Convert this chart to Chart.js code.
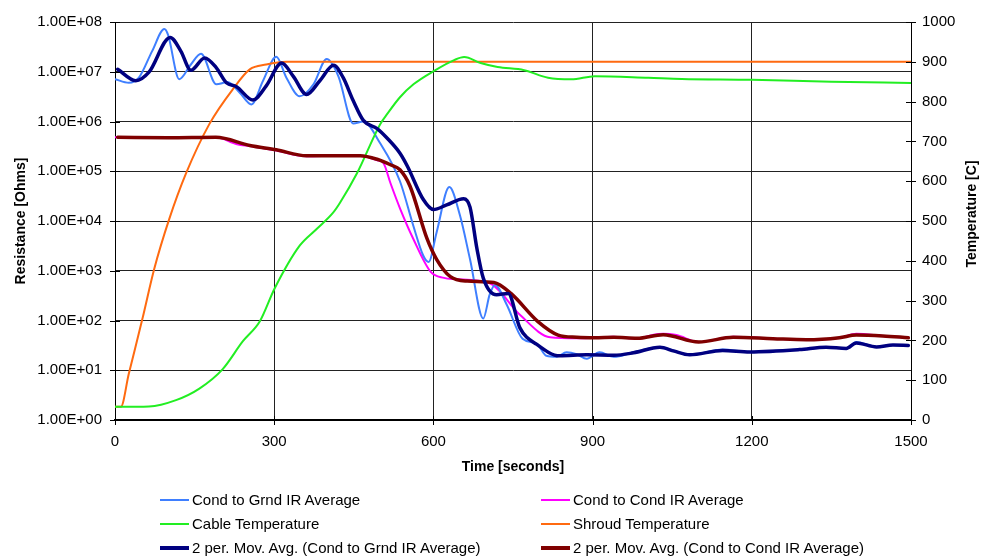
<!DOCTYPE html>
<html>
<head>
<meta charset="utf-8">
<script src="https://cdn.jsdelivr.net/npm/chart.js@4/dist/chart.umd.min.js"></script>
<style>
  html, body { margin: 0; padding: 0; background: #fff; }
  #wrap { position: relative; width: 981px; height: 558px; }
  #legend { position: absolute; left: 0; top: 0; width: 981px; height: 558px; pointer-events: none;
            font-family: "Liberation Sans", Arial, sans-serif; font-size: 15px; color: #000; }
  .li { position: absolute; height: 20px; line-height: 20px; white-space: nowrap; }
  .sw { position: absolute; left: 0; width: 29px; }
  .tx { position: absolute; left: 32px; top: 0; }
</style>
</head>
<body>
<div id="wrap">
  <canvas id="c" width="981" height="558"></canvas>
  <div id="legend"></div>
</div>
<script>
// ---------- data ----------
const timeTicks = [0, 300, 600, 900, 1200, 1500];
const resistanceTicks = [1, 10, 100, 1000, 1e4, 1e5, 1e6, 1e7, 1e8];
const temperatureTicks = [0, 100, 200, 300, 400, 500, 600, 700, 800, 900, 1000];

// Cond to Grnd IR Average [Ohms]
const grndTime = [0, 26, 45, 70, 93, 100, 121, 143, 162, 191, 212, 235, 257, 279, 304, 323, 348, 374, 399, 421, 449, 468, 500, 537, 562, 581, 591, 606, 630, 650, 669, 694, 706, 716, 738, 768, 795, 813, 832, 851, 870, 889, 913, 940, 977, 1027, 1083, 1145, 1196, 1240, 1290, 1340, 1378, 1397, 1435, 1466, 1495];
const grndIR = [7.1e6, 6.0e6, 7.6e6, 2.6e7, 7.2e7, 5.5e7, 7.1e6, 1.4e7, 2.3e7, 5.6e6, 6.2e6, 3.8e6, 2.2e6, 6.6e6, 2.0e7, 7.6e6, 3.2e6, 5.6e6, 1.8e7, 8.1e6, 9.1e5, 1.0e6, 3.6e5, 6.3e4, 8.1e3, 2.0e3, 1.5e3, 5.9e3, 4.8e4, 1.3e4, 1.7e3, 110, 330, 520, 210, 43, 34, 19.5, 18.6, 23, 21, 17, 23, 18.6, 23, 29, 20.4, 26, 23.4, 24.5, 26, 29, 27.5, 37, 29.5, 32, 31];

// Cond to Cond IR Average [Ohms]
const condTime = [0, 100, 190, 230, 254, 304, 361, 420, 462, 494, 506, 519, 537, 562, 595, 620, 639, 706, 763, 820, 870, 900, 938, 984, 1015, 1033, 1058, 1100, 1165, 1240, 1303, 1365, 1397, 1447, 1495];
const condIR = [4.8e5, 4.8e5, 4.8e5, 3.5e5, 3.2e5, 2.6e5, 2.0e5, 2.05e5, 2.05e5, 1.66e5, 1.45e5, 5.8e4, 1.8e4, 4.4e3, 950, 720, 680, 560, 130, 46, 44, 45, 47, 43, 52, 54, 51, 37, 47, 43, 41, 45, 54, 49, 45];

// Cable Temperature [C]
const cableTime = [0, 64, 115, 159, 203, 241, 273, 301, 348, 380, 411, 424, 456, 500, 513, 537, 563, 601, 640, 658, 689, 721, 771, 816, 860, 904, 1005, 1068, 1200, 1350, 1500];
const cableTemp = [33, 34, 50, 79, 128, 198, 248, 331, 438, 480, 521, 546, 620, 744, 769, 811, 844, 877, 905, 912, 897, 887, 879, 860, 856, 864, 860, 857, 855, 850, 847];

// Shroud Temperature [C]
const shroudTime = [0, 11, 26, 52, 74, 102, 134, 178, 222, 254, 285, 323, 600, 900, 1200, 1500];
const shroudTemp = [33, 33, 116, 256, 380, 504, 620, 744, 831, 881, 893, 900, 900, 900, 900, 900];

// 2 per. Mov. Avg. (Cond to Grnd IR Average) [Ohms]
const maGrndTime = [5, 39, 64, 104, 124, 143, 169, 191, 210, 229, 260, 285, 314, 336, 361, 386, 412, 430, 449, 468, 494, 513, 537, 551, 581, 600, 625, 657, 669, 682, 694, 719, 741, 763, 795, 838, 889, 940, 977, 1027, 1052, 1083, 1145, 1196, 1290, 1340, 1378, 1397, 1435, 1466, 1495];
const maGrndIR = [1.12e7, 6.6e6, 9.8e6, 4.9e7, 2.6e7, 1.07e7, 1.9e7, 1.2e7, 6.0e6, 5.0e6, 2.7e6, 5.2e6, 1.5e7, 8.1e6, 3.5e6, 6.6e6, 1.35e7, 7.6e6, 2.6e6, 1.05e6, 7.2e5, 4.6e5, 2.3e5, 1.26e5, 2.7e4, 1.7e4, 2.1e4, 2.8e4, 1.9e4, 2.8e3, 710, 330, 350, 71, 33, 19.5, 20.4, 20, 22.4, 29, 24.5, 20.4, 25, 23.4, 26, 29, 27.5, 35.5, 29.5, 32, 31.6];

// 2 per. Mov. Avg. (Cond to Cond IR Average) [Ohms]
const maCondTime = [5, 100, 190, 254, 304, 361, 462, 494, 519, 537, 556, 588, 606, 632, 664, 714, 746, 797, 835, 870, 904, 940, 984, 1033, 1100, 1165, 1240, 1303, 1365, 1397, 1447, 1495];
const maCondIR = [4.8e5, 4.7e5, 4.8e5, 3.3e5, 2.7e5, 2.05e5, 2.05e5, 1.74e5, 1.35e5, 1.07e5, 5.0e4, 4.4e3, 1.7e3, 760, 620, 580, 350, 95, 51, 46, 45, 46, 44, 52, 37, 46, 43, 41, 45, 51, 49, 45];

const seriesLabels = [
  'Cond to Grnd IR Average',
  'Cond to Cond IR Average',
  'Cable Temperature',
  'Shroud Temperature',
  '2 per. Mov. Avg. (Cond to Grnd IR Average)',
  '2 per. Mov. Avg. (Cond to Cond IR Average)'
];

// ---------- build ----------
const pts = (xs, ys) => xs.map((x, i) => ({ x: x, y: ys[i] }));
const FONT = '"Liberation Sans", Arial, sans-serif';

function expLabel(v) {
  const e = Math.round(Math.log10(v));
  return '1.00E+' + (e < 10 ? '0' : '') + e;
}

const crossTicks = {
  id: 'crossTicks',
  afterDraw(chart) {
    const ctx = chart.ctx, a = chart.chartArea;
    ctx.save();
    ctx.strokeStyle = '#000';
    ctx.lineWidth = 1;
    ctx.beginPath();
    const xs = chart.scales.x;
    xs.ticks.forEach(t => {
      const px = Math.round(xs.getPixelForValue(t.value)) + 0.5;
      ctx.moveTo(px, a.bottom - 4); ctx.lineTo(px, a.bottom + 5);
    });
    const ys = chart.scales.y;
    ys.ticks.forEach(t => {
      const py = Math.round(ys.getPixelForValue(t.value)) + 0.5;
      ctx.moveTo(a.left - 5, py); ctx.lineTo(a.left + 5, py);
    });
    const y2 = chart.scales.y2;
    y2.ticks.forEach(t => {
      const py = Math.round(y2.getPixelForValue(t.value)) + 0.5;
      ctx.moveTo(a.right - 5, py); ctx.lineTo(a.right + 5, py);
    });
    ctx.stroke();
    // right axis title, reading bottom-to-top
    ctx.fillStyle = '#000';
    ctx.font = 'bold 14px ' + FONT;
    ctx.textAlign = 'center';
    ctx.textBaseline = 'middle';
    ctx.translate(972, 214);
    ctx.rotate(-Math.PI / 2);
    ctx.fillText('Temperature [C]', 0, 0);
    ctx.restore();
  }
};

const chart = new Chart(document.getElementById('c'), {
  type: 'line',
  data: {
    datasets: [
      { label: seriesLabels[0], data: pts(grndTime, grndIR), yAxisID: 'y', borderColor: '#3F7FFF', borderWidth: 2, order: 3 },
      { label: seriesLabels[1], data: pts(condTime, condIR), yAxisID: 'y', borderColor: '#FF00FF', borderWidth: 2, order: 3 },
      { label: seriesLabels[2], data: pts(cableTime, cableTemp), yAxisID: 'y2', borderColor: '#22EE22', borderWidth: 2, order: 2 },
      { label: seriesLabels[3], data: pts(shroudTime, shroudTemp), yAxisID: 'y2', borderColor: '#FF6A10', borderWidth: 2, order: 2 },
      { label: seriesLabels[4], data: pts(maGrndTime, maGrndIR), yAxisID: 'y', borderColor: '#000080', borderWidth: 3.5, order: 1 },
      { label: seriesLabels[5], data: pts(maCondTime, maCondIR), yAxisID: 'y', borderColor: '#800000', borderWidth: 3.5, order: 1 }
    ]
  },
  options: {
    responsive: false,
    animation: false,
    devicePixelRatio: 1,
    layout: { padding: { left: 0, right: 0, top: 17, bottom: 79 } },
    elements: {
      point: { radius: 0, hoverRadius: 0 },
      line: { cubicInterpolationMode: 'monotone', fill: false, borderCapStyle: 'round', borderJoinStyle: 'round' }
    },
    plugins: { legend: { display: false }, tooltip: { enabled: false } },
    scales: {
      x: {
        type: 'linear', min: 0, max: 1500,
        afterBuildTicks(s) { s.ticks = timeTicks.map(v => ({ value: v })); },
        afterFit(s) { s.height = 59; },
        ticks: { font: { family: FONT, size: 15 }, color: '#000', padding: 13, maxRotation: 0, autoSkip: false, callback: v => String(v) },
        grid: { color: '#222', lineWidth: 1, drawTicks: false },
        border: { color: '#000', width: 2 },
        title: { display: true, text: 'Time [seconds]', font: { family: FONT, size: 14, weight: 'bold' }, color: '#000', padding: { top: 0, bottom: 3 } }
      },
      y: {
        type: 'logarithmic', position: 'left', min: 1, max: 1e8,
        afterBuildTicks(s) { s.ticks = resistanceTicks.map(v => ({ value: v })); },
        afterFit(s) { s.width = 115; },
        ticks: { font: { family: FONT, size: 15 }, color: '#000', padding: 13, autoSkip: false, callback: v => expLabel(v) },
        grid: { color: '#222', lineWidth: 1, drawTicks: false },
        border: { color: '#000', width: 1 },
        title: { display: true, text: 'Resistance [Ohms]', font: { family: FONT, size: 14, weight: 'bold' }, color: '#000', padding: { top: 13, bottom: 0 } }
      },
      y2: {
        type: 'linear', position: 'right', min: 0, max: 1000,
        afterBuildTicks(s) { s.ticks = temperatureTicks.map(v => ({ value: v })); },
        afterFit(s) { s.width = 70; },
        ticks: { font: { family: FONT, size: 15 }, color: '#000', padding: 11, autoSkip: false, callback: v => String(v) },
        grid: { drawOnChartArea: false, drawTicks: false },
        border: { color: '#000', width: 1 },
        title: { display: false }
      }
    }
  },
  plugins: [crossTicks]
});

// HTML legend built from the chart's datasets (two columns, row-major)
const legend = document.getElementById('legend');
chart.data.datasets.forEach((ds, i) => {
  const col = i % 2, row = Math.floor(i / 2);
  const item = document.createElement('div');
  item.className = 'li';
  item.style.left = (col === 0 ? 160 : 541) + 'px';
  item.style.top = (490 + row * 24) + 'px';
  const sw = document.createElement('div');
  sw.className = 'sw';
  sw.style.top = (10 - Math.round(ds.borderWidth / 2)) + 'px';
  sw.style.borderTop = Math.round(ds.borderWidth) + 'px solid ' + ds.borderColor;
  const tx = document.createElement('span');
  tx.className = 'tx';
  tx.textContent = ds.label;
  item.appendChild(sw); item.appendChild(tx);
  legend.appendChild(item);
});
</script>
</body>
</html>
